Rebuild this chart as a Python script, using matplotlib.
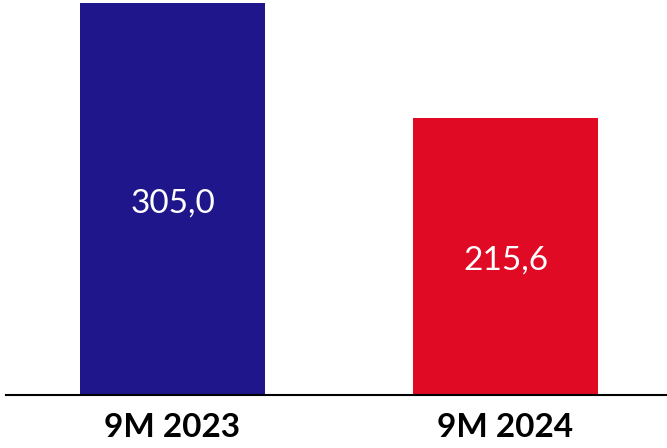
import matplotlib.pyplot as plt

# 数据
periods = ['9M 2023', '9M 2024']
values = [305.0, 215.6]
colors = ['#1F168C', '#E00A25']

fig = plt.figure(figsize=(6.67, 4.48), dpi=100)
ax = fig.add_axes([6 / 667, 53 / 448, 661 / 667, 395 / 448])

x = range(len(periods))
bars = ax.bar(x, values, width=0.556, color=colors)

# 柱内数值标签
for b, v in zip(bars, values):
    ax.annotate(f'{v:.1f}'.replace('.', ','),
                (b.get_x() + b.get_width() / 2, v / 2),
                xytext=(0, -3), textcoords='offset points',
                ha='center', va='center', color='white', fontsize=24, family='Lato')

ax.set_xlim(-0.5, 1.485)
ax.set_ylim(0, 307.3)
ax.set_xticks(list(x))
ax.set_xticklabels(periods, fontsize=24, fontweight='bold', family='Lato')
ax.tick_params(axis='x', length=0, pad=13)
ax.set_yticks([])
for s in ['top', 'right', 'left']:
    ax.spines[s].set_visible(False)
ax.spines['bottom'].set_linewidth(1.5)

fig.savefig('out.png', dpi=100)
